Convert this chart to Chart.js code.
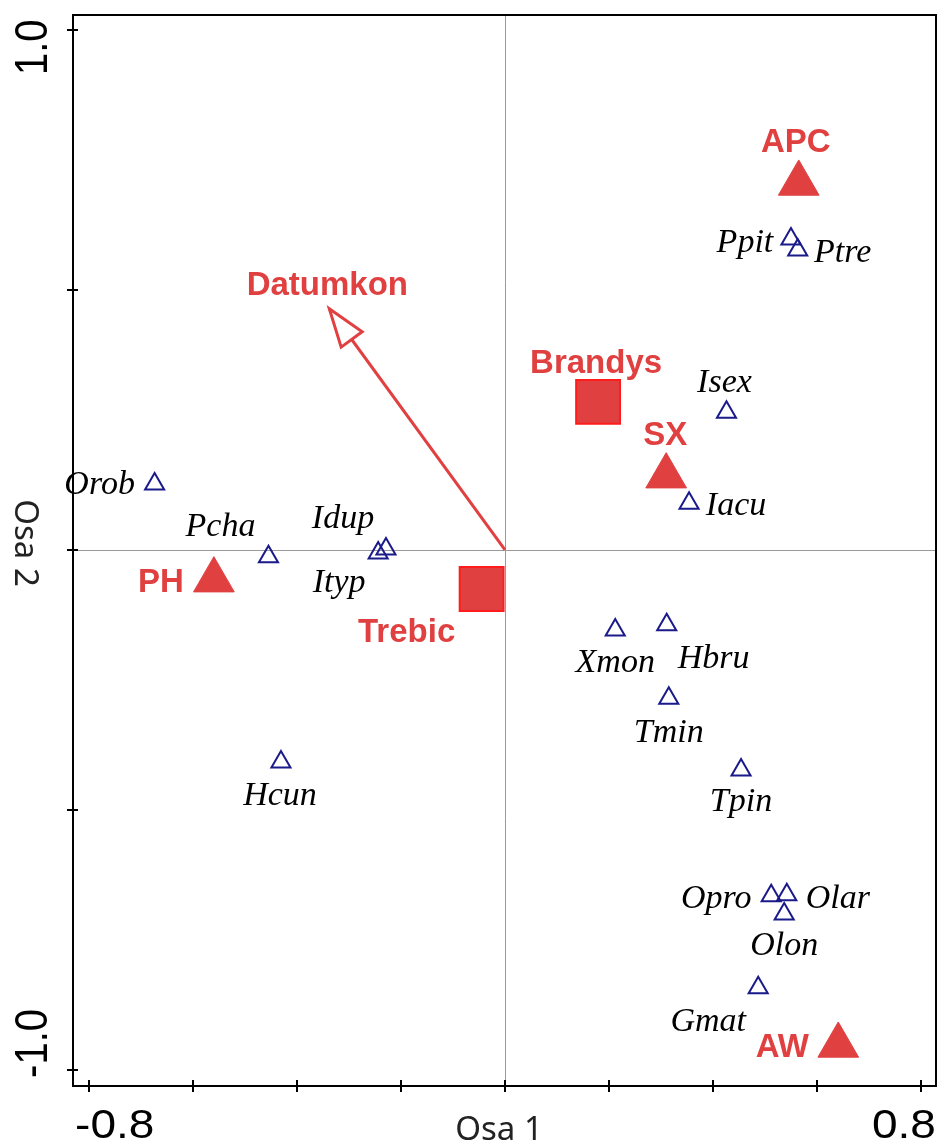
<!DOCTYPE html>
<html>
<head>
<meta charset="utf-8">
<script src="https://cdn.jsdelivr.net/npm/chart.js@4.4.1/dist/chart.umd.min.js"></script>
<style>
  html, body { margin: 0; padding: 0; background: #fff; }
  canvas { display: block; }
</style>
</head>
<body>
<canvas id="ordination" width="939" height="1146"></canvas>
<script>
// species scores (open triangles)
const speciesNames = ['Orob', 'Pcha', 'Idup', 'Ityp', 'Hcun', 'Ppit', 'Ptre', 'Isex', 'Iacu',
                      'Xmon', 'Hbru', 'Tmin', 'Tpin', 'Opro', 'Olar', 'Olon', 'Gmat'];
const speciesX = [-0.674, -0.455, -0.229, -0.244, -0.431, 0.550, 0.563, 0.426, 0.354,
                  0.212, 0.311, 0.315, 0.454, 0.512, 0.542, 0.537, 0.487];
const speciesY = [0.127, -0.013, 0.002, -0.006, -0.408, 0.598, 0.577, 0.265, 0.090,
                  -0.154, -0.144, -0.285, -0.423, -0.665, -0.663, -0.700, -0.842];

// group centroids (filled triangles)
const groupNames = ['APC', 'SX', 'PH', 'AW'];
const groupX = [0.565, 0.310, -0.560, 0.641];
const groupY = [0.705, 0.142, -0.058, -0.953];

// locality centroids (filled squares)
const localityNames = ['Brandys', 'Trebic'];
const localityX = [0.179, -0.045];
const localityY = [0.285, -0.075];

// quantitative variable (arrow from origin)
const envName = 'Datumkon';
const envX = -0.338;
const envY = 0.464;

const xTicks = [-0.8, -0.6, -0.4, -0.2, 0, 0.2, 0.4, 0.6, 0.8];
const yTicks = [1.0, 0.5, 0, -0.5, -1.0];
const xTickLabels = ['-0.8', '0.8'];
const yTickLabels = ['1.0', '-1.0'];
const xLimits = [-0.831, 0.829];
const yLimits = [-1.031, 1.029];

const RED = '#e04040';
const NAVY = '#1a1a8a';

// where each label sits relative to its mark: [dx of text centre, dy of baseline]
const labelShift = {
    Orob: [-55, 10], Pcha: [-48, -21], Idup: [-43, -21], Ityp: [-39, 39], Hcun: [-1, 43],
    Ppit: [-46, 13], Ptre: [45, 12], Isex: [-2, -20], Iacu: [47, 12], Xmon: [0, 42],
    Hbru: [47, 43], Tmin: [0, 44], Tpin: [0, 41], Opro: [-55, 12], Olar: [51, 13],
    Olon: [0, 41], Gmat: [-50, 43],
    APC: [-3, -31], SX: [-1, -31], PH: [-53, 12], AW: [-56, 12],
    Brandys: [-2, -29], Trebic: [-75, 53], Datumkon: [-2, -14]
};

const toPoints = (xs, ys) => xs.map((v, i) => ({ x: v, y: ys[i] }));

// stretched text as the plotting program renders axis annotation
function axisText(ctx, str, x, y, rot, align) {
    ctx.save();
    ctx.translate(x, y);
    ctx.scale(1.15, 1);
    ctx.rotate(rot);
    ctx.textAlign = align;
    ctx.textBaseline = 'alphabetic';
    ctx.fillText(str, 0, 0);
    ctx.restore();
}

const ordinationDecor = {
    id: 'ordinationDecor',
    beforeDatasetsDraw(chart) {
        const { ctx, chartArea: a, scales: { x, y } } = chart;
        const x0 = Math.round(x.getPixelForValue(0)) + 0.5;
        const y0 = Math.round(y.getPixelForValue(0)) + 0.5;
        ctx.save();
        ctx.strokeStyle = '#9a9a9a';
        ctx.lineWidth = 1;
        ctx.beginPath();
        ctx.moveTo(x0, a.top);
        ctx.lineTo(x0, a.bottom);
        ctx.moveTo(a.left, y0);
        ctx.lineTo(a.right, y0);
        ctx.stroke();
        ctx.restore();
    },
    afterDatasetsDraw(chart) {
        const { ctx } = chart;
        ctx.save();

        // open arrowhead at the end of the variable vector
        const arrow = chart.getDatasetMeta(3).data;
        const p0 = arrow[0], p1 = arrow[1];
        const dx = p1.x - p0.x, dy = p1.y - p0.y;
        const len = Math.hypot(dx, dy);
        const ux = dx / len, uy = dy / len;
        const headLen = 38, headHalf = 13;
        const bx = p1.x - ux * headLen, by = p1.y - uy * headLen;
        ctx.beginPath();
        ctx.moveTo(p1.x, p1.y);
        ctx.lineTo(bx - uy * headHalf, by + ux * headHalf);
        ctx.lineTo(bx + uy * headHalf, by - ux * headHalf);
        ctx.closePath();
        ctx.fillStyle = '#fff';
        ctx.fill();
        ctx.strokeStyle = RED;
        ctx.lineWidth = 3;
        ctx.lineJoin = 'miter';
        ctx.stroke();

        ctx.textAlign = 'center';
        ctx.textBaseline = 'alphabetic';

        // species names
        ctx.font = 'italic 34px "Liberation Serif", "Times New Roman", serif';
        ctx.fillStyle = '#000';
        chart.getDatasetMeta(0).data.forEach((pt, i) => {
            const s = labelShift[speciesNames[i]];
            ctx.fillText(speciesNames[i], pt.x + s[0], pt.y + s[1]);
        });

        // groups, localities and the variable
        ctx.font = 'bold 33px "Liberation Sans", Arial, sans-serif';
        ctx.fillStyle = RED;
        chart.getDatasetMeta(1).data.forEach((pt, i) => {
            const s = labelShift[groupNames[i]];
            ctx.fillText(groupNames[i], pt.x + s[0], pt.y + s[1]);
        });
        chart.getDatasetMeta(2).data.forEach((pt, i) => {
            const s = labelShift[localityNames[i]];
            ctx.fillText(localityNames[i], pt.x + s[0], pt.y + s[1]);
        });
        const sv = labelShift[envName];
        ctx.fillText(envName, p1.x + sv[0], p1.y + sv[1]);

        ctx.restore();
    },
    afterDraw(chart) {
        const { ctx, chartArea: a, scales: { x, y } } = chart;
        ctx.save();
        ctx.strokeStyle = '#000';
        ctx.lineWidth = 2;
        ctx.strokeRect(a.left, a.top, a.right - a.left, a.bottom - a.top);

        ctx.beginPath();
        xTicks.forEach(v => {
            const px = Math.round(x.getPixelForValue(v));
            ctx.moveTo(px, a.bottom - 6);
            ctx.lineTo(px, a.bottom + 6);
        });
        yTicks.forEach(v => {
            const py = Math.round(y.getPixelForValue(v));
            ctx.moveTo(a.left - 6, py);
            ctx.lineTo(a.left + 5, py);
        });
        ctx.stroke();

        ctx.fillStyle = '#000';
        ctx.font = '40px "Liberation Sans", Arial, sans-serif';
        const base = a.bottom + 52;
        axisText(ctx, xTickLabels[0], x.getPixelForValue(xTicks[0]) - 14, base, 0, 'left');
        axisText(ctx, xTickLabels[1], x.getPixelForValue(xTicks[xTicks.length - 1]) + 15, base, 0, 'right');
        axisText(ctx, yTickLabels[0], a.left - 26, y.getPixelForValue(yTicks[0]) + 45, -Math.PI / 2, 'left');
        axisText(ctx, yTickLabels[1], a.left - 26, y.getPixelForValue(yTicks[yTicks.length - 1]) + 8, -Math.PI / 2, 'left');

        // axis titles
        ctx.fillStyle = '#222';
        ctx.font = '33px "Noto Sans", "Open Sans", sans-serif';
        ctx.textAlign = 'center';
        ctx.textBaseline = 'alphabetic';
        ctx.fillText('Osa 1', x.getPixelForValue(0) - 6, a.bottom + 54);
        ctx.translate(15, y.getPixelForValue(0) - 7);
        ctx.rotate(Math.PI / 2);
        ctx.fillText('Osa 2', 0, 0);
        ctx.restore();
    }
};

new Chart(document.getElementById('ordination'), {
    type: 'scatter',
    data: {
        datasets: [
            {
                label: 'species',
                data: toPoints(speciesX, speciesY),
                pointStyle: 'triangle',
                pointRadius: 11,
                borderColor: NAVY,
                borderWidth: 2,
                backgroundColor: 'rgba(0,0,0,0)'
            },
            {
                label: 'groups',
                data: toPoints(groupX, groupY),
                pointStyle: 'triangle',
                pointRadius: 23.5,
                borderColor: RED,
                borderWidth: 1,
                backgroundColor: RED
            },
            {
                label: 'localities',
                data: toPoints(localityX, localityY),
                pointStyle: 'rect',
                pointRadius: 31,
                borderColor: '#ff1c1c',
                borderWidth: 2,
                backgroundColor: RED
            },
            {
                label: envName,
                data: [{ x: 0, y: 0 }, { x: envX, y: envY }],
                showLine: true,
                pointRadius: 0,
                borderColor: RED,
                borderWidth: 3,
                fill: false
            }
        ]
    },
    options: {
        responsive: false,
        animation: false,
        layout: { autoPadding: false, padding: { left: 73, top: 15, right: 3, bottom: 60 } },
        plugins: {
            legend: { display: false },
            tooltip: { enabled: false }
        },
        scales: {
            x: { type: 'linear', min: xLimits[0], max: xLimits[1], display: false },
            y: { type: 'linear', min: yLimits[0], max: yLimits[1], display: false }
        }
    },
    plugins: [ordinationDecor]
});
</script>
</body>
</html>
